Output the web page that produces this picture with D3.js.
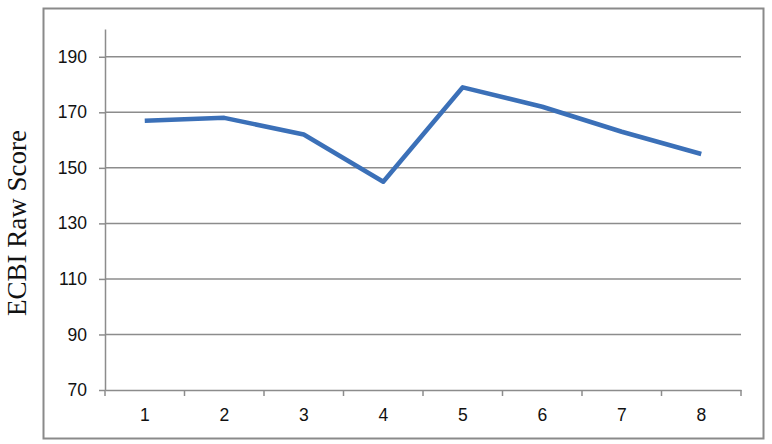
<!DOCTYPE html>
<html>
<head>
<meta charset="utf-8">
<script src="https://cdn.jsdelivr.net/npm/d3@7"></script>
<style>
  body { margin: 0; background: #fff; }
  svg { display: block; }
</style>
</head>
<body>
<svg id="chart"></svg>
<script>
// data
var sessions = ["1", "2", "3", "4", "5", "6", "7", "8"];
var scores = [167, 168, 162, 145, 179, 172, 163, 155];
var yTicks = [70, 90, 110, 130, 150, 170, 190];
var yTitle = "ECBI Raw Score";

var width = 772, height = 444;
var margin = { top: 29, right: 31, bottom: 54, left: 105 };

var svg = d3.select("#chart")
  .attr("width", width)
  .attr("height", height);

// outer frame
svg.append("rect")
  .attr("x", 43.5).attr("y", 8.5)
  .attr("width", 720).attr("height", 430)
  .attr("fill", "none")
  .attr("stroke", "#8a8a8a")
  .attr("stroke-width", 2);

var x = d3.scaleBand()
  .domain(sessions)
  .range([margin.left, width - margin.right]);

var y = d3.scaleLinear()
  .domain([70, 200])
  .range([height - margin.bottom, margin.top]);

// gridlines
svg.append("g")
  .selectAll("line")
  .data(yTicks.slice(1))
  .join("line")
  .attr("x1", margin.left)
  .attr("x2", width - margin.right)
  .attr("y1", d => y(d))
  .attr("y2", d => y(d))
  .attr("stroke", "#8c8c8c")
  .attr("stroke-width", 1.5);

var yAxis = svg.append("g")
  .attr("transform", `translate(${margin.left},0)`)
  .call(d3.axisLeft(y).tickValues(yTicks).tickSize(6).tickPadding(12).tickSizeOuter(0));

var xAxis = svg.append("g")
  .attr("transform", `translate(0,${height - margin.bottom})`)
  .call(d3.axisBottom(x).tickSize(0).tickPadding(19));

// x ticks sit at band edges
svg.append("g")
  .selectAll("line")
  .data(sessions.concat(["end"]))
  .join("line")
  .attr("x1", (d, i) => margin.left + i * x.step())
  .attr("x2", (d, i) => margin.left + i * x.step())
  .attr("y1", y(70))
  .attr("y2", y(70) + 6)
  .attr("stroke", "#8c8c8c")
  .attr("stroke-width", 1.5);

[yAxis, xAxis].forEach(function(g) {
  g.select(".domain").attr("stroke", "#8c8c8c").attr("stroke-width", 1.5);
  g.selectAll(".tick line").attr("stroke", "#8c8c8c").attr("stroke-width", 1.5);
  g.selectAll(".tick text")
    .attr("fill", "#111")
    .style("font-family", "'Liberation Sans', Arial, sans-serif")
    .style("font-size", "17.5px");
});

var line = d3.line()
  .x((d, i) => x(sessions[i]) + x.bandwidth() / 2)
  .y(d => y(d));

svg.append("path")
  .datum(scores)
  .attr("d", line)
  .attr("fill", "none")
  .attr("stroke", "#3b70b8")
  .attr("stroke-width", 4.5)
  .attr("stroke-linejoin", "round");

svg.append("text")
  .attr("transform", "translate(26,223) rotate(-90)")
  .attr("text-anchor", "middle")
  .style("font-family", "'Liberation Serif', 'Times New Roman', serif")
  .style("font-size", "27px")
  .attr("fill", "#111")
  .text(yTitle);
</script>
</body>
</html>
